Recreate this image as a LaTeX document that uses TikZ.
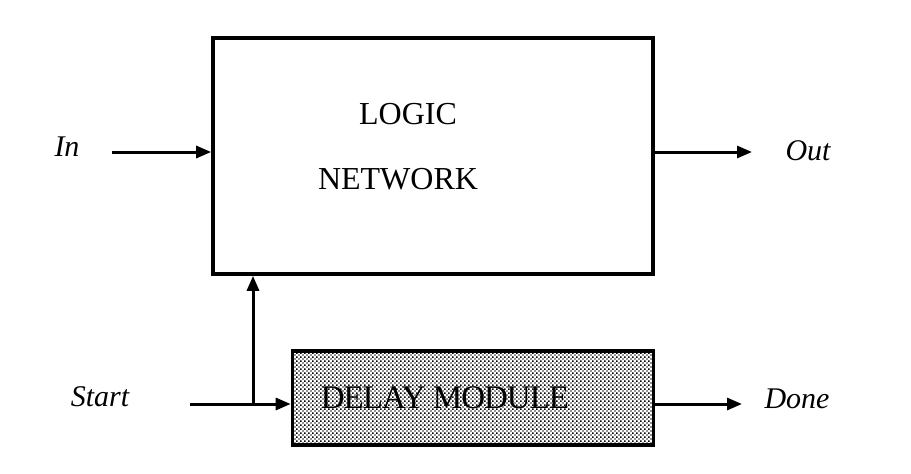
\documentclass[tikz,border=0pt]{standalone}
\usepackage{fontspec}
\setmainfont{Liberation Serif}
\usetikzlibrary{arrows.meta,patterns.meta}
\pgfdeclarepattern{
  name=sparsedots,
  type=uncolored,
  bottom left={\pgfpoint{0pt}{0pt}},
  top right={\pgfpoint{4.4pt}{4.4pt}},
  tile size={\pgfpoint{4.4pt}{4.4pt}},
  code={
    \pgfpathrectangle{\pgfpoint{0.3pt}{0.3pt}}{\pgfpoint{1.6pt}{1.6pt}}
    \pgfpathrectangle{\pgfpoint{2.5pt}{2.5pt}}{\pgfpoint{1.6pt}{1.6pt}}
    \pgfusepath{fill}
  }
}
\begin{document}
\begin{tikzpicture}[x=1pt,y=-1pt,
  blockbox/.style={draw,line width=3.6pt,inner sep=0pt},
  conn/.style={line width=3pt,-{Triangle[length=15pt,width=12pt]}},
  lbl/.style={font=\fontsize{30}{33}\selectfont\itshape,inner sep=0pt},
  boxtext/.style={font=\fontsize{32}{35}\selectfont,inner sep=0pt}]
\useasboundingbox (0,0) rectangle (911,474);
\node[blockbox,minimum width=440pt,minimum height=236pt] (logic) at (433,156) {};
\node[boxtext] (t1) at (408,114) {LOGIC};
\node[boxtext] (t2) at (398,179) {NETWORK};
\node[blockbox,minimum width=361pt,minimum height=94pt,pattern=sparsedots] (delay) at (473,398) {};
\node[boxtext,font=\fontsize{33}{36}\selectfont\addfontfeature{LetterSpace=-3}] (dt) at (445,398) {DELAY MODULE};
\node[lbl] (in) at (67,147) {In};
\node[lbl] (out) at (808,151) {Out};
\node[lbl] (start) at (100,397) {Start};
\node[lbl] (done) at (797,399) {Done};
\coordinate (inS) at (112,152);
\coordinate (outE) at (752,152);
\coordinate (stS) at (190,404);
\coordinate (br) at (253,404);
\coordinate (doneE) at (742,404);
\draw[conn] (inS) -- (inS -| logic.west);
\draw[conn] (outE -| logic.east) -- (outE);
\draw[conn] (stS) -- (stS -| delay.west);
\draw[conn] (br) -- (br |- logic.south);
\draw[conn] (doneE -| delay.east) -- (doneE);
\end{tikzpicture}
\end{document}
